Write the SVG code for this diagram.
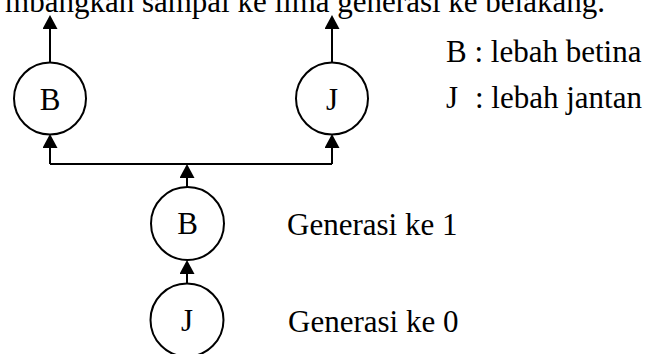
<svg xmlns="http://www.w3.org/2000/svg" width="649" height="354" viewBox="0 0 649 354">
<style>
text{font-family:"Liberation Serif","Times New Roman",serif;font-size:31px;fill:#000}
.c{text-anchor:middle}
circle{fill:#fff;stroke:#000;stroke-width:2}
.ln{fill:none;stroke:#000;stroke-width:2}
</style>
<defs>
<marker id="ah" viewBox="0 0 14 15" refX="0" refY="7.5" markerWidth="14" markerHeight="15" markerUnits="userSpaceOnUse" orient="auto">
<path d="M0,0 L14,7.5 L0,15 Z" fill="#000"/>
</marker>
</defs>
<rect width="649" height="354" fill="#fff"/>
<text x="605" y="12" text-anchor="end">mbangkan sampai ke lima generasi ke belakang.</text>
<g id="connectors">
<path class="ln" d="M50,63 V29" marker-end="url(#ah)"/>
<path class="ln" d="M332,63 V29" marker-end="url(#ah)"/>
<path class="ln" d="M50,164 H332"/>
<path class="ln" d="M50,164 V148" marker-end="url(#ah)"/>
<path class="ln" d="M332,164 V148" marker-end="url(#ah)"/>
<path class="ln" d="M187,187 V178" marker-end="url(#ah)"/>
<path class="ln" d="M187,284 V274" marker-end="url(#ah)"/>
</g>
<g id="nodeB2"><circle cx="50" cy="98.5" r="36"/><text class="c" x="50" y="110">B</text></g>
<g id="nodeJ2"><circle cx="332" cy="98.5" r="36"/><text class="c" x="332" y="110">J</text></g>
<g id="nodeB1"><circle cx="187.5" cy="223.5" r="36.5"/><text class="c" x="187.5" y="234">B</text></g>
<g id="nodeJ0"><circle cx="187" cy="320" r="36.5"/><text class="c" x="187" y="331">J</text></g>
<g id="legend">
<text x="446" y="62">B : lebah betina</text>
<text x="446" y="108">J<tspan x="475">: lebah jantan</tspan></text>
</g>
<g id="labels">
<text x="287" y="235">Generasi ke 1</text>
<text x="288" y="332">Generasi ke 0</text>
</g>
</svg>
